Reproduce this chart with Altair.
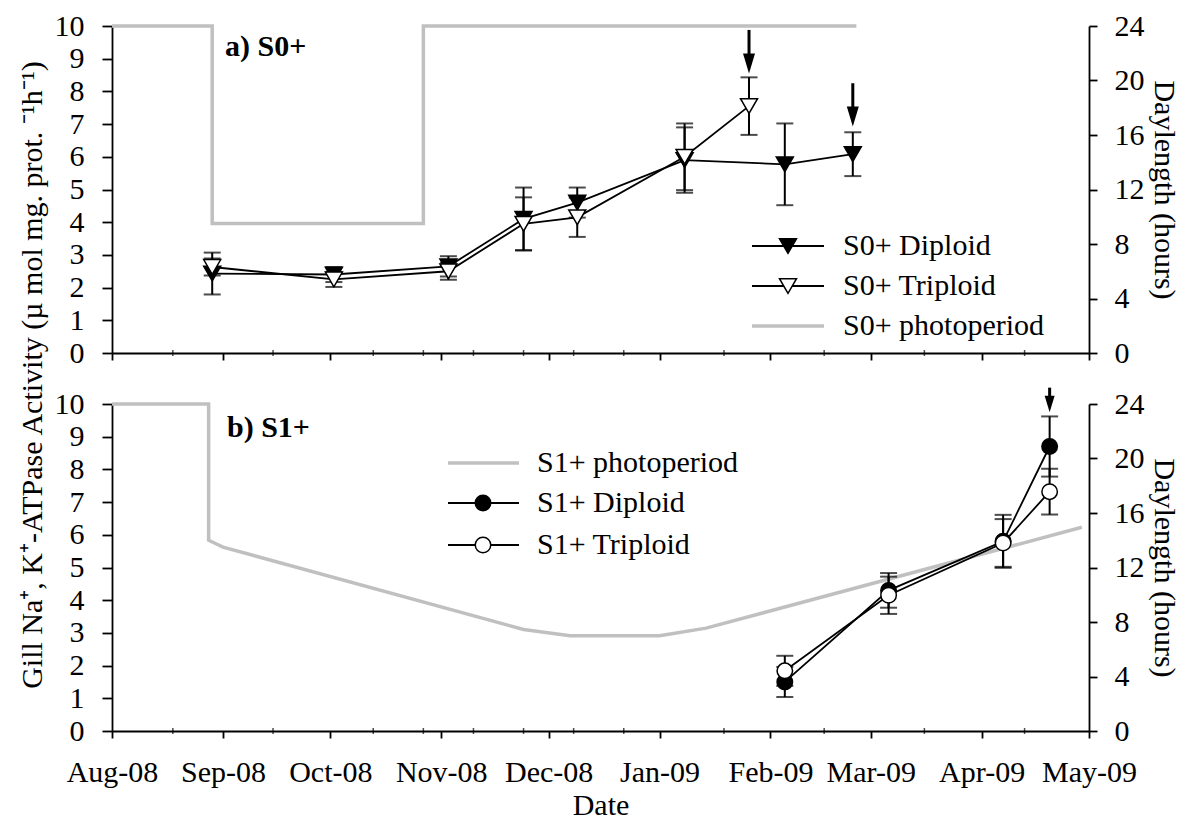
import altair as alt
import pandas as pd

FONT = "Liberation Serif"
FS = 30
W, H = 977, 327

# ---------------- x axis ticks ----------------
month_ticks = ["2008-08-01", "2008-09-01", "2008-10-01", "2008-11-01", "2008-12-01",
               "2009-01-01", "2009-02-01", "2009-03-01", "2009-04-01", "2009-05-01"]
minor_tick_dates = ["2008-08-18", "2008-09-15", "2008-10-13", "2008-10-27", "2008-11-10",
                    "2008-11-24", "2008-12-08", "2008-12-22", "2009-01-19", "2009-02-16",
                    "2009-03-16", "2009-04-13"]

# ---------------- panel a) S0+ ----------------
a_dip_dates = ["2008-08-29", "2008-10-02", "2008-11-03", "2008-11-24", "2008-12-09",
               "2009-01-08", "2009-02-05", "2009-02-24"]
a_dip_mean = [2.43, 2.40, 2.65, 4.10, 4.60, 5.90, 5.77, 6.08]
a_dip_err = [0.64, 0.23, 0.31, 0.96, 0.46, 1.00, 1.25, 0.67]

a_trip_dates = ["2008-08-29", "2008-10-02", "2008-11-03", "2008-11-24", "2008-12-09",
                "2009-01-08", "2009-01-26"]
a_trip_mean = [2.63, 2.25, 2.50, 3.95, 4.15, 6.00, 7.55]
a_trip_err = [0.26, 0.23, 0.26, 0.81, 0.60, 1.02, 0.88]

a_photo_dates = ["2008-08-01", "2008-08-29", "2008-08-29", "2008-10-27", "2008-10-27", "2009-02-25"]
a_photo_hours = [24, 24, 9.5, 9.5, 24, 24]

a_arrow_dates = ["2009-01-26", "2009-02-24"]
a_arrow_from = [9.88, 8.25]
a_arrow_to = [8.55, 6.93]

# ---------------- panel b) S1+ ----------------
b_dip_dates = ["2009-02-05", "2009-03-06", "2009-04-07", "2009-04-20"]
b_dip_mean = [1.50, 4.30, 5.80, 8.70]
b_dip_err = [0.46, 0.53, 0.81, 0.92]

b_trip_dates = ["2009-02-05", "2009-03-06", "2009-04-07", "2009-04-20"]
b_trip_mean = [1.84, 4.15, 5.75, 7.32]
b_trip_err = [0.46, 0.57, 0.73, 0.70]

b_photo_dates = ["2008-08-01", "2008-08-28", "2008-08-28", "2008-09-01", "2008-11-24",
                 "2008-12-07", "2009-01-01", "2009-01-14", "2009-04-29"]
b_photo_hours = [24, 24, 14.0, 13.5, 7.45, 7.0, 7.0, 7.55, 14.95]

b_arrow_dates = ["2009-04-20"]
b_arrow_from = [10.5]
b_arrow_to = [9.75]

Y_TITLE = "Gill Na\u207a, K\u207a-ATPase Activity (\u00b5 mol mg. prot. \u207b\u00b9h\u207b\u00b9)"


def dt(s):
    y, m, d = map(int, s.split("-"))
    return alt.DateTime(year=y, month=m, date=d, utc=True)


def X(show_labels):
    return alt.X(
        "date:T",
        scale=alt.Scale(type="utc", domain=[dt(month_ticks[0]), dt(month_ticks[-1])]),
        axis=alt.Axis(values=[dt(s) for s in month_ticks],
                      labelExpr="utcFormat(datum.value, '%b-%y')",
                      labels=show_labels, tickSize=7, labelPadding=19, labelOverlap=False,
                      labelFlush=False, title="Date" if show_labels else None, titlePadding=3),
    )


def YL(field):
    return alt.Y(f"{field}:Q", scale=alt.Scale(domain=[0, 10], nice=False),
                 axis=alt.Axis(values=list(range(11)), title=None, tickSize=10,
                               labelPadding=18, orient="left"))


YR = alt.Y("hours:Q", scale=alt.Scale(domain=[0, 24], nice=False),
           axis=alt.Axis(values=[0, 4, 8, 12, 16, 20, 24], orient="right",
                         title="Daylength (hours)", tickSize=8, labelPadding=17, titlePadding=4))

one = pd.DataFrame({"k": [0]})


def series_df(dates, mean, err):
    return pd.DataFrame({"date": dates, "mean": mean,
                         "lo": [m - e for m, e in zip(mean, err)],
                         "hi": [m + e for m, e in zip(mean, err)]})


def series_layers(df, show_labels, shape, size, fill):
    x = X(show_labels)
    line = alt.Chart(df).mark_line(color="black", strokeWidth=1.8).encode(x=x, y=YL("mean"))
    bar = alt.Chart(df).mark_rule(color="black", strokeWidth=2).encode(
        x=x, y=YL("lo"), y2=alt.Y2("hi"))
    cap_lo = alt.Chart(df).mark_tick(orient="horizontal", size=17, thickness=2, color="black").encode(
        x=x, y=YL("lo"))
    cap_hi = alt.Chart(df).mark_tick(orient="horizontal", size=17, thickness=2, color="black").encode(
        x=x, y=YL("hi"))
    pts = alt.Chart(df).mark_point(shape=shape, size=size, filled=True, fill=fill,
                                   stroke="black", strokeWidth=1.5, opacity=1).encode(x=x, y=YL("mean"))
    return [bar, cap_lo, cap_hi, line, pts]


def arrow_layers(dates, frm, to, show_labels, head_size):
    df = pd.DataFrame({"date": dates, "from": frm, "to": to})
    x = X(show_labels)
    shaft = alt.Chart(df).mark_rule(color="black", strokeWidth=3, y2Offset=-8).encode(
        x=x, y=YL("from"), y2=alt.Y2("to"))
    head = alt.Chart(df).mark_point(shape="M-1,-3.3L1,-3.3L0,0Z", size=head_size, filled=True,
                                    color="black", opacity=1).encode(x=x, y=YL("to"))
    return [shaft, head]


def minor_ticks(show_labels):
    df = pd.DataFrame({"date": minor_tick_dates})
    return alt.Chart(df).mark_tick(orient="vertical", size=6, thickness=1.5, color="black").encode(
        x=X(show_labels), y=alt.value(H))


def legend_row(x0, x1, xm, xt, y, text, kind, shape=None, fill=None, size=None):
    layers = []
    if kind == "photo":
        layers.append(alt.Chart(one).mark_rule(color="#c0c0c0", strokeWidth=3.5).encode(
            x=alt.value(x0), x2=alt.value(x1), y=alt.value(y)))
    else:
        layers.append(alt.Chart(one).mark_rule(color="black", strokeWidth=1.8).encode(
            x=alt.value(x0), x2=alt.value(x1), y=alt.value(y)))
        layers.append(alt.Chart(one).mark_point(shape=shape, size=size, filled=True, fill=fill,
                                                stroke="black", strokeWidth=1.5, opacity=1).encode(
            x=alt.value(xm), y=alt.value(y)))
    layers.append(alt.Chart(one).mark_text(align="left", baseline="middle", font=FONT,
                                           fontSize=FS, color="black").encode(
        x=alt.value(xt), y=alt.value(y), text=alt.value(text)))
    return layers


def photo_layer(dates, hours, show_labels):
    df = pd.DataFrame({"date": dates, "hours": hours, "ord": list(range(len(dates)))})
    return alt.Chart(df).mark_line(color="#c0c0c0", strokeWidth=3.5).encode(
        x=X(show_labels), y=YR, order="ord:Q")


def label_layer(text, xpix, ypix):
    return alt.Chart(one).mark_text(align="left", baseline="alphabetic", font=FONT, fontSize=FS,
                                    fontWeight="bold", color="black").encode(
        x=alt.value(xpix), y=alt.value(ypix), text=alt.value(text))


# ---- top panel ----
top_layers = []
top_layers += series_layers(series_df(a_dip_dates, a_dip_mean, a_dip_err), False, "triangle-down", 290, "black")
top_layers += series_layers(series_df(a_trip_dates, a_trip_mean, a_trip_err), False, "triangle-down", 290, "white")
top_layers += arrow_layers(a_arrow_dates, a_arrow_from, a_arrow_to, False, 144)
top_layers.append(minor_ticks(False))
top_layers += legend_row(640, 712, 676, 731, 220, "S0+ Diploid", "pt", "triangle-down", "black", 290)
top_layers += legend_row(640, 712, 676, 731, 260, "S0+ Triploid", "pt", "triangle-down", "white", 290)
top_layers += legend_row(640, 712, 676, 731, 300, "S0+ photoperiod", "photo")
top_layers.append(label_layer("a) S0+", 113, 30))
top_layers.append(alt.Chart(one).mark_text(angle=270, align="center", baseline="middle", font=FONT,
                                           fontSize=FS, color="black").encode(
    x=alt.value(-79), y=alt.value(349), text=alt.value(Y_TITLE)))

top = alt.layer(photo_layer(a_photo_dates, a_photo_hours, False),
                alt.layer(*top_layers)).resolve_scale(y="independent").properties(width=W, height=H)

# ---- bottom panel ----
bot_layers = []
bot_layers += series_layers(series_df(b_dip_dates, b_dip_mean, b_dip_err), True, "circle", 240, "black")
bot_layers += series_layers(series_df(b_trip_dates, b_trip_mean, b_trip_err), True, "circle", 240, "white")
bot_layers += arrow_layers(b_arrow_dates, b_arrow_from, b_arrow_to, True, 100)
bot_layers.append(minor_ticks(True))
bot_layers += legend_row(336, 407, 371, 425, 59, "S1+ photoperiod", "photo")
bot_layers += legend_row(336, 407, 371, 425, 99, "S1+ Diploid", "pt", "circle", "black", 240)
bot_layers += legend_row(336, 407, 371, 425, 141, "S1+ Triploid", "pt", "circle", "white", 240)
bot_layers.append(label_layer("b) S1+", 115, 33))

bottom = alt.layer(photo_layer(b_photo_dates, b_photo_hours, True),
                   alt.layer(*bot_layers)).resolve_scale(y="independent").properties(width=W, height=H)

chart = alt.vconcat(top, bottom, spacing=51, bounds="flush").properties(
    padding={"left": 9, "top": 3, "right": 2, "bottom": 0}
).configure_view(stroke=None).configure_axis(
    labelFont=FONT, labelFontSize=FS, labelColor="black",
    titleFont=FONT, titleFontSize=FS, titleFontWeight="normal", titleColor="black",
    domainColor="black", domainWidth=1.8, tickColor="black", tickWidth=1.8, grid=False,
)

chart.save("out.html", embed_options={"renderer": "svg", "actions": False})
